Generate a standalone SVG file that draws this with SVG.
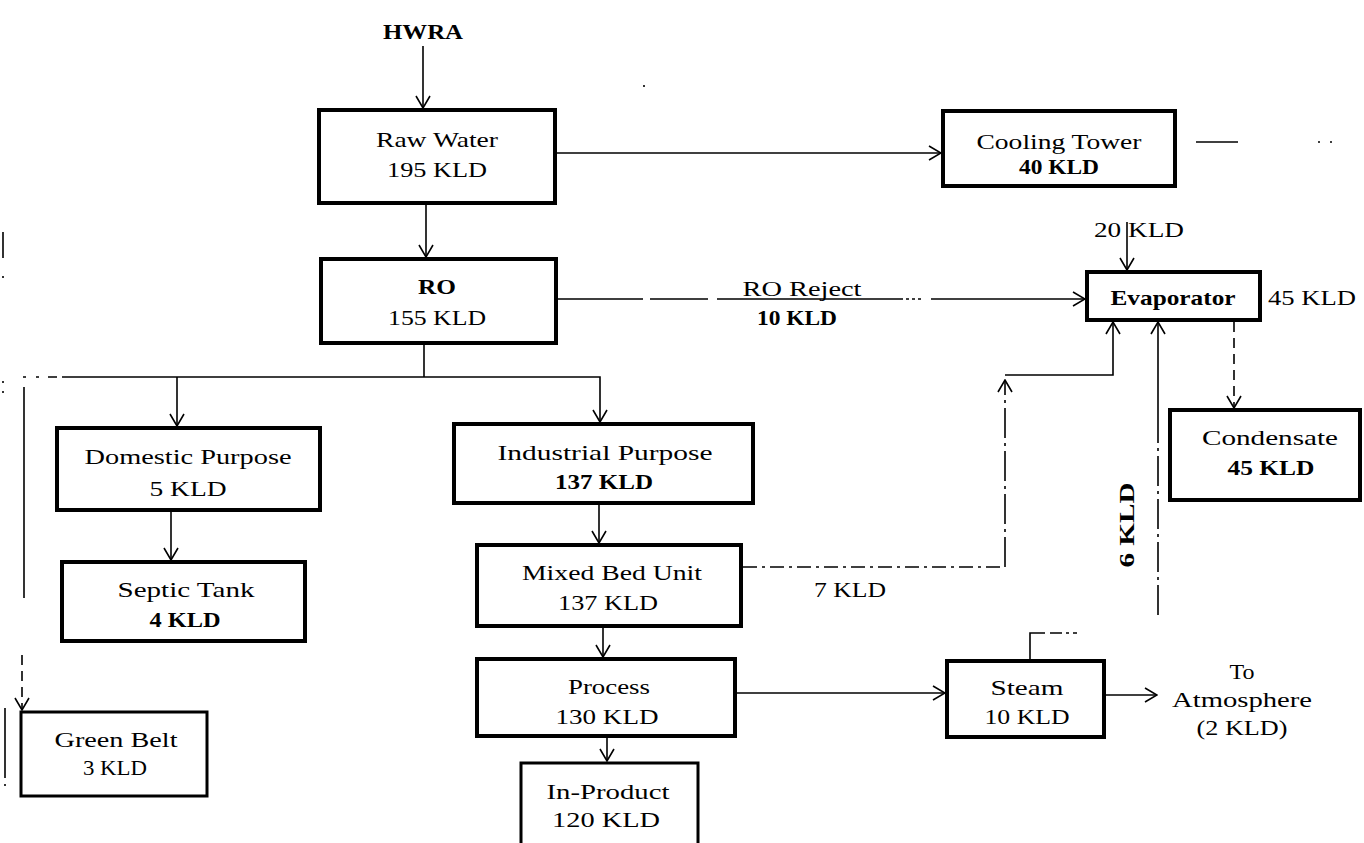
<svg xmlns="http://www.w3.org/2000/svg" width="1364" height="843" viewBox="0 0 1364 843">
<style>
.box{fill:#fff;stroke:#000;stroke-width:4}
.thin{stroke-width:3}
.t{font-family:"Liberation Serif","Times New Roman",serif;font-size:22px;fill:#000;text-anchor:middle}
.b{font-weight:bold}
.ln{fill:none;stroke:#000;stroke-width:1.6}
.dd{stroke-dasharray:14,5,3,5}
.dv{stroke-dasharray:30,5,3,5}
.ds{stroke-dasharray:10,6}
</style>
<defs>
<marker id="ah" viewBox="-1 -8 14 16" refX="12" refY="0" markerWidth="14" markerHeight="16" markerUnits="userSpaceOnUse" orient="auto">
<path d="M0,-7 L12,0 L0,7" fill="none" stroke="#000" stroke-width="1.6"/>
</marker>
</defs>
<rect width="1364" height="843" fill="#fff"/>

<g id="connectors">
<line class="ln" x1="423" y1="46" x2="423" y2="108" marker-end="url(#ah)"/>
<line class="ln" x1="557" y1="153" x2="941" y2="153" marker-end="url(#ah)"/>
<line class="ln" x1="426" y1="205" x2="426" y2="257" marker-end="url(#ah)"/>
<path class="ln" d="M558,299 H643 M650,299 H708 M717,299 H903 M906,299 H909 M912,299 H915 M918,299 H921"/>
<line class="ln" x1="931" y1="299" x2="1085" y2="299" marker-end="url(#ah)"/>
<line class="ln" x1="424" y1="345" x2="424" y2="377"/>
<path class="ln" d="M62,377 H600 V422" marker-end="url(#ah)"/>
<path class="ln" d="M48,377 H57 M36,377 H39 M23,377 H26"/>
<line class="ln" x1="177" y1="377" x2="177" y2="426" marker-end="url(#ah)"/>
<line class="ln" x1="171" y1="512" x2="171" y2="560" marker-end="url(#ah)"/>
<line class="ln" x1="24" y1="387" x2="24" y2="598"/>
<line class="ln ds" x1="22" y1="655" x2="22" y2="710" marker-end="url(#ah)"/>
<line class="ln" x1="599" y1="505" x2="599" y2="543" marker-end="url(#ah)"/>
<line class="ln" x1="603" y1="628" x2="603" y2="657" marker-end="url(#ah)"/>
<line class="ln" x1="607" y1="738" x2="607" y2="761" marker-end="url(#ah)"/>
<line class="ln" x1="737" y1="693" x2="945" y2="693" marker-end="url(#ah)"/>
<line class="ln" x1="1106" y1="695" x2="1157" y2="695" marker-end="url(#ah)"/>
<path class="ln" d="M1030,659 V633 H1045 M1050,633 H1062 M1066,633 H1069 M1073,633 H1077"/>
<path class="ln dd" d="M743,567 H1005"/>
<path class="ln dv" d="M1005,567 V380" marker-end="url(#ah)"/>
<path class="ln" d="M1005,375 H1113 V322" marker-end="url(#ah)"/>
<path class="ln dv" d="M1158,615 V430"/>
<line class="ln" x1="1158" y1="430" x2="1158" y2="322" marker-end="url(#ah)"/>
<line class="ln" x1="1127" y1="222" x2="1127" y2="270" marker-end="url(#ah)"/>
<line class="ln ds" x1="1234" y1="322" x2="1234" y2="408" marker-end="url(#ah)"/>
<line class="ln" x1="1196" y1="142" x2="1238" y2="142"/>
<path class="ln" d="M1318,142 h2 M1330,142 h2"/>
<path class="ln" d="M3,232 V258 M3,276 v2 M3,381 v2 M3,391 v2 M5,708 V778 M5,784 v2 M644,85 v2"/>
</g>

<g id="hwra"><text class="t b" x="423" y="39" textLength="80" lengthAdjust="spacingAndGlyphs">HWRA</text></g>

<g id="raw-water">
<rect class="box" x="319" y="110" width="236" height="93"/>
<text class="t" x="437" y="147" textLength="122" lengthAdjust="spacingAndGlyphs">Raw Water</text>
<text class="t" x="437" y="177" textLength="100" lengthAdjust="spacingAndGlyphs">195 KLD</text>
</g>

<g id="cooling-tower">
<rect class="box" x="943" y="111" width="232" height="75"/>
<text class="t" x="1059" y="149" textLength="165" lengthAdjust="spacingAndGlyphs">Cooling Tower</text>
<text class="t b" x="1059" y="174" textLength="80" lengthAdjust="spacingAndGlyphs">40 KLD</text>
</g>

<g id="ro">
<rect class="box" x="321" y="259" width="235" height="84"/>
<text class="t b" x="437" y="294" textLength="38" lengthAdjust="spacingAndGlyphs">RO</text>
<text class="t" x="437" y="325" textLength="98" lengthAdjust="spacingAndGlyphs">155 KLD</text>
</g>

<g id="ro-reject-label">
<text class="t" x="802" y="296" textLength="119" lengthAdjust="spacingAndGlyphs">RO Reject</text>
<text class="t b" x="797" y="325" textLength="80" lengthAdjust="spacingAndGlyphs">10 KLD</text>
</g>

<g id="evaporator">
<rect class="box" x="1087" y="272" width="173" height="48"/>
<text class="t b" x="1173" y="305" textLength="125" lengthAdjust="spacingAndGlyphs">Evaporator</text>
<text class="t" x="1139" y="237" textLength="90" lengthAdjust="spacingAndGlyphs">20 KLD</text>
<text class="t" x="1312" y="305" textLength="88" lengthAdjust="spacingAndGlyphs">45 KLD</text>
</g>

<g id="domestic">
<rect class="box" x="57" y="428" width="263" height="82"/>
<text class="t" x="188" y="464" textLength="207" lengthAdjust="spacingAndGlyphs">Domestic Purpose</text>
<text class="t" x="188" y="496" textLength="77" lengthAdjust="spacingAndGlyphs">5 KLD</text>
</g>

<g id="industrial">
<rect class="box" x="454" y="424" width="299" height="79"/>
<text class="t" x="605" y="460" textLength="215" lengthAdjust="spacingAndGlyphs">Industrial Purpose</text>
<text class="t b" x="604" y="489" textLength="98" lengthAdjust="spacingAndGlyphs">137 KLD</text>
</g>

<g id="condensate">
<rect class="box" x="1170" y="410" width="190" height="90"/>
<text class="t" x="1270" y="445" textLength="136" lengthAdjust="spacingAndGlyphs">Condensate</text>
<text class="t b" x="1271" y="475" textLength="87" lengthAdjust="spacingAndGlyphs">45 KLD</text>
</g>

<g id="septic">
<rect class="box" x="62" y="562" width="243" height="79"/>
<text class="t" x="186" y="597" textLength="137" lengthAdjust="spacingAndGlyphs">Septic Tank</text>
<text class="t b" x="185" y="627" textLength="71" lengthAdjust="spacingAndGlyphs">4 KLD</text>
</g>

<g id="mixed-bed">
<rect class="box" x="477" y="545" width="264" height="81"/>
<text class="t" x="612" y="580" textLength="180" lengthAdjust="spacingAndGlyphs">Mixed Bed Unit</text>
<text class="t" x="608" y="610" textLength="100" lengthAdjust="spacingAndGlyphs">137 KLD</text>
</g>

<g id="seven-kld"><text class="t" x="850" y="597" textLength="72" lengthAdjust="spacingAndGlyphs">7 KLD</text></g>
<g id="six-kld"><text class="t b" x="0" y="0" transform="translate(1134,525) rotate(-90)" textLength="85" lengthAdjust="spacingAndGlyphs">6 KLD</text></g>

<g id="process">
<rect class="box" x="477" y="659" width="258" height="77"/>
<text class="t" x="609" y="694" textLength="82" lengthAdjust="spacingAndGlyphs">Process</text>
<text class="t" x="607" y="724" textLength="103" lengthAdjust="spacingAndGlyphs">130 KLD</text>
</g>

<g id="steam">
<rect class="box" x="947" y="661" width="157" height="76"/>
<text class="t" x="1027" y="695" textLength="73" lengthAdjust="spacingAndGlyphs">Steam</text>
<text class="t" x="1027" y="724" textLength="85" lengthAdjust="spacingAndGlyphs">10 KLD</text>
</g>

<g id="atmosphere">
<text class="t" x="1242" y="679" textLength="25" lengthAdjust="spacingAndGlyphs">To</text>
<text class="t" x="1242" y="707" textLength="140" lengthAdjust="spacingAndGlyphs">Atmosphere</text>
<text class="t" x="1242" y="735" textLength="91" lengthAdjust="spacingAndGlyphs">(2 KLD)</text>
</g>

<g id="green-belt">
<rect class="box thin" x="21" y="712" width="186" height="84"/>
<text class="t" x="116" y="747" textLength="123" lengthAdjust="spacingAndGlyphs">Green Belt</text>
<text class="t" x="115" y="775" textLength="64" lengthAdjust="spacingAndGlyphs">3 KLD</text>
</g>

<g id="in-product">
<rect class="box thin" x="521" y="763" width="177" height="90"/>
<text class="t" x="608" y="799" textLength="123" lengthAdjust="spacingAndGlyphs">In-Product</text>
<text class="t" x="606" y="827" textLength="108" lengthAdjust="spacingAndGlyphs">120 KLD</text>
</g>
</svg>
